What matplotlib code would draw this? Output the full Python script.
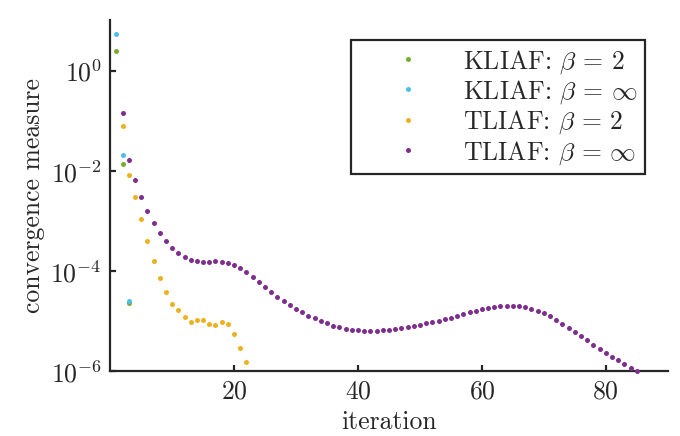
import numpy as np
import matplotlib
matplotlib.use('Agg')
import matplotlib.pyplot as plt

# convergence measure per iteration, values read as log10
kliaf2_it = [1, 2, 3]
kliaf2_log = [0.406, -1.846, -4.626]

kliafinf_it = [1, 2, 3]
kliafinf_log = [0.746, -1.68, -4.586]

tliaf2_it = list(range(2, 23))
tliaf2_log = [-1.086, -2.08, -2.514, -2.954, -3.386, -3.786, -4.126, -4.42,
              -4.646, -4.774, -4.914, -5.014, -4.98, -4.98, -5.06, -5.074,
              -5.006, -5.06, -5.26, -5.534, -5.814]

tliafinf_it = list(range(2, 86))
tliafinf_log = [-0.826, -1.774, -2.174, -2.514, -2.80, -3.034, -3.226, -3.394,
                -3.526, -3.634, -3.72, -3.766, -3.80, -3.814, -3.806, -3.80,
                -3.806, -3.826, -3.874, -3.934, -4.014,
                -4.113, -4.22, -4.32, -4.42, -4.507, -4.6, -4.68, -4.753,
                -4.82, -4.887, -4.94, -4.993, -5.04, -5.087, -5.12, -5.147,
                -5.167, -5.18, -5.187, -5.187, -5.187, -5.18, -5.167, -5.153,
                -5.14, -5.113, -5.093, -5.067, -5.04, -5.013, -4.987, -4.96,
                -4.927, -4.893, -4.853, -4.813, -4.787, -4.753, -4.733, -4.707,
                -4.693, -4.687, -4.687, -4.693, -4.72, -4.753, -4.787, -4.84,
                -4.9, -4.967, -5.047, -5.127, -5.207, -5.293, -5.38, -5.467,
                -5.547, -5.627, -5.707, -5.78, -5.853, -5.927, -6.0]

plt.rcParams['font.family'] = 'serif'
plt.rcParams['font.serif'] = ['cmr10']
plt.rcParams['mathtext.fontset'] = 'cm'
plt.rcParams['axes.formatter.use_mathtext'] = True
plt.rcParams['axes.unicode_minus'] = False

dark = '#262626'
fs = 18.5

fig = plt.figure(figsize=(6.8, 4.36), dpi=100)
ax = fig.add_axes([0.162, 0.148, 0.82, 0.806])

series = [
    (kliaf2_it, kliaf2_log, '#77AC30', r'KLIAF: $\beta\,=\,2$'),
    (kliafinf_it, kliafinf_log, '#4DBEEE', r'KLIAF: $\beta\,=\,\infty$'),
    (tliaf2_it, tliaf2_log, '#EDB120', r'TLIAF: $\beta\,=\,2$'),
    (tliafinf_it, tliafinf_log, '#7E2F8E', r'TLIAF: $\beta\,=\,\infty$'),
]
for it, lg, col, lab in series:
    ax.plot(it, 10.0 ** np.array(lg), 'o', ms=3.6, color=col, mec='none',
            label=lab, clip_on=False, zorder=3)

ax.set_yscale('log')
ax.set_xlim(0, 90)
ax.set_ylim(1e-6, 10.5)
ax.set_xticks([20, 40, 60, 80])
ax.set_yticks([1e-6, 1e-4, 1e-2, 1])
ax.yaxis.set_minor_locator(matplotlib.ticker.NullLocator())

for side in ['top', 'right']:
    ax.spines[side].set_visible(False)
for side in ['left', 'bottom']:
    ax.spines[side].set_linewidth(1.6)
    ax.spines[side].set_color(dark)
ax.tick_params(direction='in', length=4.5, width=1.6, color=dark,
               labelsize=fs, labelcolor=dark, pad=6)

ax.set_xlabel('iteration', fontsize=fs, color=dark, labelpad=5)
ax.set_ylabel('convergence measure', fontsize=fs, color=dark, labelpad=4)

leg = ax.legend(loc='upper right', bbox_to_anchor=(0.959, 0.943),
                borderaxespad=0, fontsize=fs, handlelength=3.84,
                handletextpad=0.22, labelspacing=0.1, borderpad=0.3,
                fancybox=False, framealpha=1, numpoints=1)
leg.get_frame().set_edgecolor(dark)
leg.get_frame().set_linewidth(1.6)
for t in leg.get_texts():
    t.set_color(dark)

fig.savefig('out.png', dpi=100)
